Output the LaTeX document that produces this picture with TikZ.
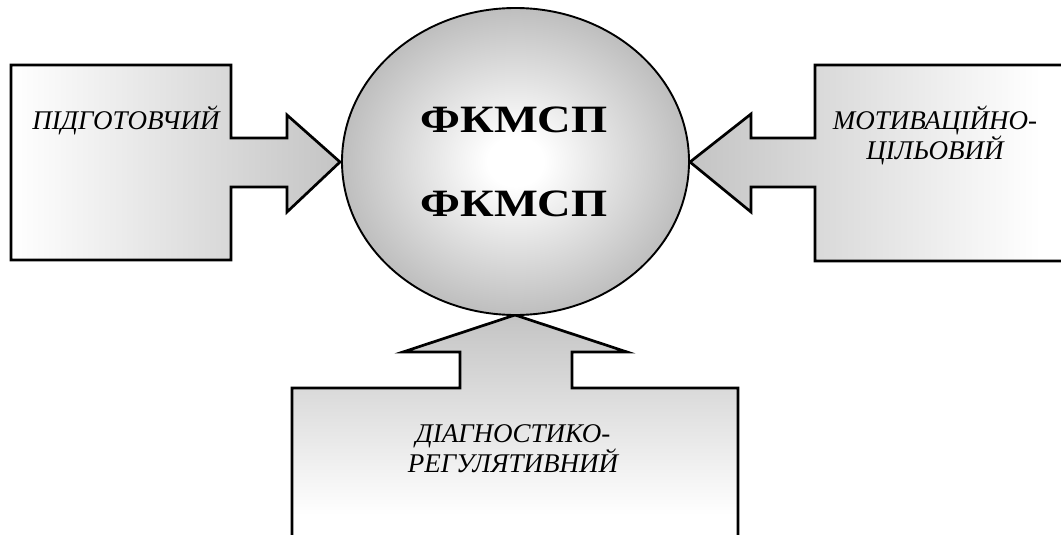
\documentclass[tikz,border=0pt]{standalone}
\usepackage{fontspec}
\setmainfont{Liberation Serif}
\newfontfamily\corefont[FakeStretch=1.2]{Liberation Serif Bold}
\usetikzlibrary{shapes.geometric}
\definecolor{shadegray}{RGB}{190,190,190}
\definecolor{boxgray}{RGB}{196,196,196}
\pgfdeclareradialshading{glow}{\pgfpoint{0bp}{0bp}}{color(0bp)=(white); color(4bp)=(white); color(25bp)=(shadegray); color(50bp)=(shadegray)}
\tikzset{
  outline/.style={draw=black, line width=2.7pt, line join=miter},
  label/.style={font=\fontsize{27}{28.5}\selectfont\itshape, align=center, inner sep=0pt},
  core/.style={font=\fontsize{38.7}{84.5}\corefont, align=center, inner sep=0pt}
}
\begin{document}
\begin{tikzpicture}[x=1pt,y=-1pt]
\useasboundingbox (0,0) rectangle (1061,535);
% left shape
\begin{scope}
\clip (11,65) -- (231,65) -- (231,138) -- (287,138) -- (287,115) -- (340,162) -- (287,212) -- (287,187) -- (231,187) -- (231,260) -- (11,260) -- cycle;
\shade[left color=white, right color=boxgray] (13,60) rectangle (340,265);
\end{scope}
\draw[outline] (11,65) -- (231,65) -- (231,138) -- (287,138) -- (287,115) -- (340,162) -- (287,212) -- (287,187) -- (231,187) -- (231,260) -- (11,260) -- cycle;
% right shape
\begin{scope}
\clip (1070,65) -- (815,65) -- (815,138) -- (751,138) -- (751,114) -- (690,162) -- (751,212) -- (751,187) -- (815,187) -- (815,261) -- (1070,261) -- cycle;
\shade[left color=boxgray, right color=white] (690,60) rectangle (1040,265);
\end{scope}
\draw[outline] (1064,65) -- (815,65) -- (815,138) -- (751,138) -- (751,114) -- (690,162) -- (751,212) -- (751,187) -- (815,187) -- (815,261) -- (1064,261);
% bottom shape
\begin{scope}
\clip (292,540) -- (292,388) -- (460,388) -- (460,352) -- (403,352) -- (515,315) -- (627,352) -- (572,352) -- (572,388) -- (738,388) -- (738,540) -- cycle;
\shade[top color=boxgray, bottom color=white] (290,315) rectangle (740,515);
\end{scope}
\draw[outline] (292,540) -- (292,388) -- (460,388) -- (460,352) -- (403,352) -- (515,315) -- (627,352) -- (572,352) -- (572,388) -- (738,388) -- (738,540);
% centre ellipse
\node[ellipse, draw=black, line width=1.9pt, shading=glow,
      minimum width=347pt, minimum height=307pt, inner sep=0pt] (centre) at (515.5,161.5) {};
\node[core] (ctext) at (514,162) {ФКМСП\\ФКМСП};
% labels
\node[label, anchor=base] (prep) at (126,129) {ПІДГОТОВЧИЙ};
\node[label] (motiv) at (935,135) {МОТИВАЦІЙНО-\\ЦІЛЬОВИЙ};
\node[label] (diag) at (513,449) {ДІАГНОСТИКО-\\РЕГУЛЯТИВНИЙ};
\end{tikzpicture}
\end{document}
